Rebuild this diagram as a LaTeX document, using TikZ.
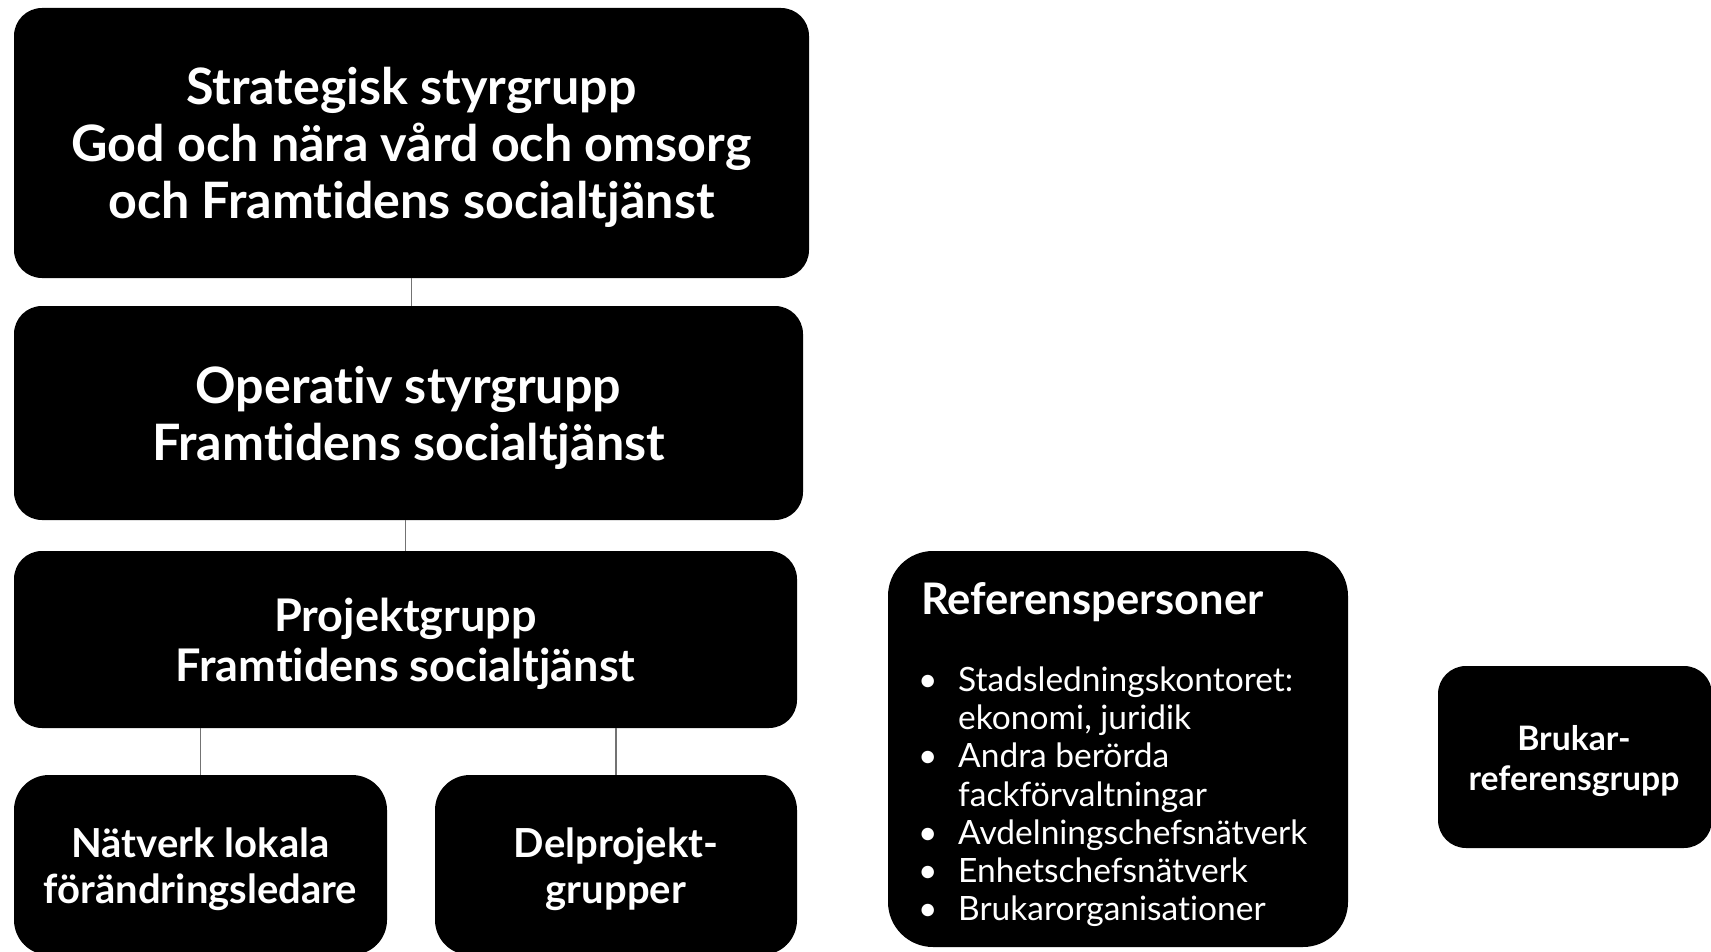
\documentclass[tikz,border=0pt]{standalone}
\usepackage{fontspec}
\setmainfont{Lato}[Ligatures={NoCommon,NoContextual}]
\usetikzlibrary{calc}
\tikzset{
  box/.style={draw=none, fill=black, inner sep=0pt},
  lbl/.style={text=white, inner sep=0pt, align=center, font=\bfseries},
  conn/.style={draw=black!55, line width=1.3pt}
}
\begin{document}
\begin{tikzpicture}[x=1pt,y=-1pt]
\useasboundingbox (0,0) rectangle (1711,952);
% boxes
\node[box, minimum width=795, minimum height=270, rounded corners=28pt] (b1) at (411.5,143) {};
\node[box, minimum width=789, minimum height=214, rounded corners=28pt] (b2) at (408.5,413) {};
\node[box, minimum width=783, minimum height=177, rounded corners=28pt] (b3) at (405.5,639.5) {};
\node[box, minimum width=373, minimum height=180, rounded corners=35pt] (b4) at (200.5,865) {};
\node[box, minimum width=362, minimum height=180, rounded corners=35pt] (b5) at (616,865) {};
\node[box, minimum width=460, minimum height=396, rounded corners=45pt] (b6) at (1118,749) {};
\node[box, minimum width=274, minimum height=182, rounded corners=28pt] (b7) at (1575,757) {};
% labels
\node[lbl, font=\bfseries\fontsize{50.2}{57}\selectfont] (b1t) at ([yshift=-4pt]b1.center)
  {Strategisk styrgrupp\\God och nära vård och omsorg\\och Framtidens socialtjänst};
\node[lbl, font=\bfseries\fontsize{50.2}{57}\selectfont] (b2t) at ([yshift=-4.5pt]b2.center)
  {Operativ styrgrupp\\Framtidens socialtjänst};
\node[lbl, font=\bfseries\fontsize{45}{50}\selectfont] (b3t) at ([yshift=-4pt]b3.center)
  {Projektgrupp\\Framtidens socialtjänst};
\node[lbl, font=\bfseries\fontsize{40}{46}\selectfont] (b4t) at ([yshift=-4.5pt]b4.center)
  {Nätverk lokala\\förändringsledare};
\node[lbl, font=\bfseries\fontsize{40}{46}\selectfont] (b5t) at ([yshift=-4.5pt]b5.center)
  {Delprojekt-\\grupper};
\node[lbl, anchor=west, font=\bfseries\fontsize{43.5}{48}\selectfont] (t6) at (921,602) {Referenspersoner};
\node[lbl, anchor=north west, align=left, font=\mdseries\fontsize{33.5}{38.2}\selectfont] (l6) at (918,664.5)
  {\begin{tabular}{@{}l@{}l@{}}
  \makebox[40pt][l]{\textbullet} & Stadsledningskontoret:\\
   & ekonomi, juridik\\
  \makebox[40pt][l]{\textbullet} & Andra berörda\\
   & fackförvaltningar\\
  \makebox[40pt][l]{\textbullet} & Avdelningschefsnätverk\\
  \makebox[40pt][l]{\textbullet} & Enhetschefsnätverk\\
  \makebox[40pt][l]{\textbullet} & Brukarorganisationer
  \end{tabular}};
\node[lbl, font=\bfseries\fontsize{33.7}{40}\selectfont] (b7t) at ([xshift=-1pt,yshift=-4pt]b7.center)
  {Brukar-\\referensgrupp};
% connectors
\draw[conn] (b1.south) -- (b1.south |- b2.north);
\draw[conn] (b3.north) -- (b3.north |- b2.south);
\draw[conn] (b4.north) -- (b4.north |- b3.south);
\draw[conn] (b5.north) -- (b5.north |- b3.south);
\end{tikzpicture}
\end{document}
